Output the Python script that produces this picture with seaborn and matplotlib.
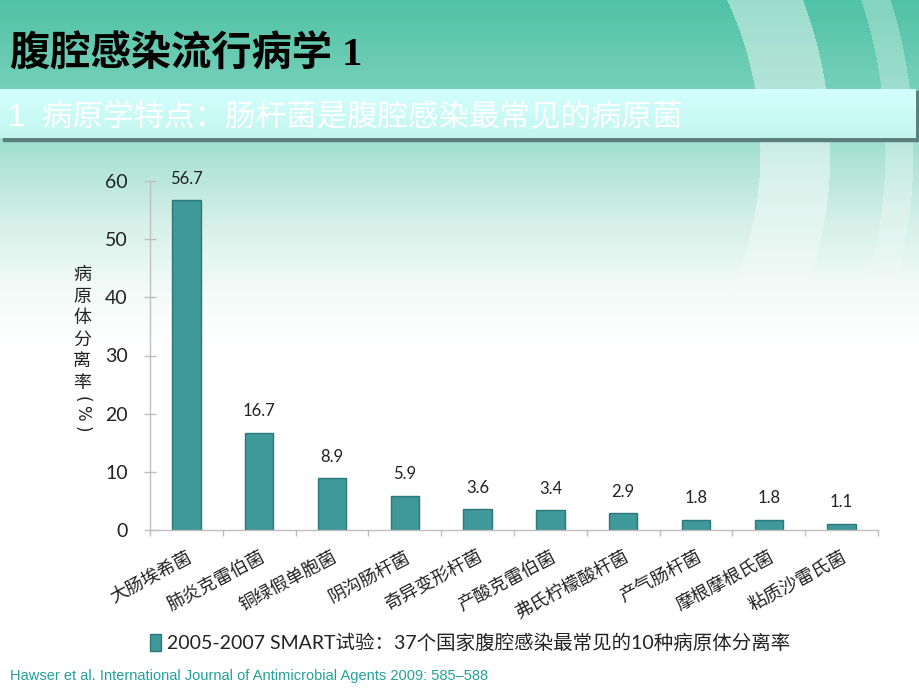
import numpy as np
import pandas as pd
import matplotlib
matplotlib.use("Agg")
import matplotlib.pyplot as plt
import matplotlib.patches as mpatches
from matplotlib.colors import LinearSegmentedColormap
import seaborn as sns

# ---------------- data ----------------
categories = ["大肠埃希菌", "肺炎克雷伯菌", "铜绿假单胞菌", "阴沟肠杆菌", "奇异变形杆菌",
              "产酸克雷伯菌", "弗氏柠檬酸杆菌", "产气肠杆菌", "摩根摩根氏菌", "粘质沙雷氏菌"]
values = [56.7, 16.7, 8.9, 5.9, 3.6, 3.4, 2.9, 1.8, 1.8, 1.1]
value_labels = ["56.7", "16.7", "8.9", "5.9", "3.6", "3.4", "2.9", "1.8", "1.8", "1.1"]
y_ticks = [0, 10, 20, 30, 40, 50, 60]
series_name = "2005-2007 SMART试验：37个国家腹腔感染最常见的10种病原体分离率"
title_text = "腹腔感染流行病学 1"
subtitle_text = "1  病原学特点：肠杆菌是腹腔感染最常见的病原菌"
ylabel_chars = ["病", "原", "体", "分", "离", "率"]
ylabel_unit = ["(", "%", ")"]
footer_text = "Hawser et al. International Journal of Antimicrobial Agents 2009: 585–588"

sns.set_theme(style="white")
CJK = ["Lato", "Noto Sans CJK SC", "DejaVu Sans"]
plt.rcParams["font.family"] = CJK

W, H = 920, 690
fig = plt.figure(figsize=(9.2, 6.9), dpi=100)

# ---------------- background ----------------
bg = fig.add_axes([0, 0, 1, 1], zorder=-10)
grad_cmap = LinearSegmentedColormap.from_list(
    "bg",
    [(0.0, "#50c3a6"), (0.12, "#74cfb8"), (0.22, "#a9e2d2"),
     (0.32, "#d5f0e8"), (0.42, "#f3fbf8"), (0.5, "#ffffff"), (1.0, "#ffffff")])
grad = np.linspace(0, 1, H).reshape(-1, 1)
bg.imshow(grad, cmap=grad_cmap, extent=(0, W, H, 0), aspect="auto", zorder=0)

# decorative light arcs at the top right (RGBA overlay)
yy, xx = np.mgrid[0:H, 0:W].astype(float)
dist = np.hypot(xx - 405, yy - 150)
band1 = ((dist > 355) & (dist < 425)).astype(float) * 0.45
band2 = ((dist > 480) & (dist < 508)).astype(float) * 0.30
alpha = np.maximum(band1, band2)
alpha *= (xx > 600)
fade = np.clip(1 - (yy - 200) / 130, 0, 1)
alpha *= fade
overlay = np.ones((H, W, 4))
overlay[..., 3] = alpha
bg.imshow(overlay, extent=(0, W, H, 0), aspect="auto", zorder=1, interpolation="bilinear")

# subtitle bar with shadow
bg.add_patch(mpatches.Rectangle((3, 91), 917, 50, color="#5b7f7c", zorder=3))
bar_cmap = LinearSegmentedColormap.from_list("bar", ["#d2ffff", "#c4f6ee"])
bg.imshow(np.linspace(0, 1, 50).reshape(-1, 1), cmap=bar_cmap,
          extent=(0, 916, 138, 89), aspect="auto", zorder=4)
bg.set_xlim(0, W)
bg.set_ylim(H, 0)
bg.axis("off")

fig.text(10 / W, 1 - 55 / H, title_text, fontsize=29, fontweight="bold",
         family=["Liberation Serif", "Noto Sans CJK SC"], color="black",
         va="center", ha="left")
fig.text(8 / W, 1 - 118 / H, subtitle_text, fontsize=22,
         family=["Liberation Sans", "Noto Sans CJK SC"], color="white",
         va="center", ha="left")

# ---------------- chart ----------------
left, right, top, bottom = 150, 878, 181, 530
ax = fig.add_axes([left / W, 1 - bottom / H, (right - left) / W, (bottom - top) / H])
ax.patch.set_alpha(0)

df = pd.DataFrame({"category": categories, "value": values, "series": series_name})
sns.barplot(data=df, x="category", y="value", hue="series", ax=ax,
            palette=["#3f9899"], width=0.39, edgecolor="#2c7778", linewidth=1,
            legend=False, saturation=1)

ax.set_ylim(0, 60)
ax.set_xlim(-0.5, len(categories) - 0.5)
ax.set_yticks(y_ticks)
ax.set_yticklabels([str(t) for t in y_ticks], fontsize=14, color="#222222")
ax.set_xticks(range(len(categories)))
ax.set_xticklabels(categories, rotation=28, ha="right", rotation_mode="anchor",
                   fontsize=13, color="#222222")
ax.set_xticks(np.arange(-0.5, len(categories), 1), minor=True)
ax.tick_params(axis="x", which="major", length=0, pad=13)
ax.tick_params(axis="x", which="minor", length=4, color="#bfbfbf", width=1,
               direction="out", bottom=True)
ax.tick_params(axis="y", length=8, color="#bfbfbf", width=1, direction="inout",
               left=True, pad=12)
ax.set_xlabel("")
ax.set_ylabel("")
for s in ["top", "right"]:
    ax.spines[s].set_visible(False)
for s in ["left", "bottom"]:
    ax.spines[s].set_color("#bfbfbf")
    ax.spines[s].set_linewidth(1)
ax.grid(False)

for i, (v, lab) in enumerate(zip(values, value_labels)):
    ax.annotate(lab, (i, v), xytext=(0, 15.5), textcoords="offset points",
                ha="center", va="center", fontsize=12, color="#222222")

# vertical y label
ys = [275, 297, 318, 340, 361, 383]
for ch, yv in zip(ylabel_chars, ys):
    fig.text(82 / W, 1 - yv / H, ch, fontsize=13, ha="center", va="center",
             family=["Noto Sans CJK SC"], color="#222222")
for ch, yv in zip(ylabel_unit, [399, 413, 429]):
    fig.text(82 / W, 1 - yv / H, ch, fontsize=12, ha="center", va="center",
             rotation=-90, rotation_mode="anchor", family=["DejaVu Sans"],
             color="#222222")

# legend
handle = mpatches.Patch(facecolor="#3f9899", edgecolor="#2c7778", label=series_name)
fig.legend(handles=[handle], loc="center", bbox_to_anchor=(470 / W, 1 - 643 / H),
           frameon=False, fontsize=14, handlelength=0.6, handleheight=0.9,
           handletextpad=0.3, labelcolor="#222222")

fig.text(10 / W, 1 - 676 / H, footer_text, fontsize=10.5,
         family=["Liberation Sans"], color="#22a09a", va="center", ha="left")

fig.savefig("out.png", dpi=100)
